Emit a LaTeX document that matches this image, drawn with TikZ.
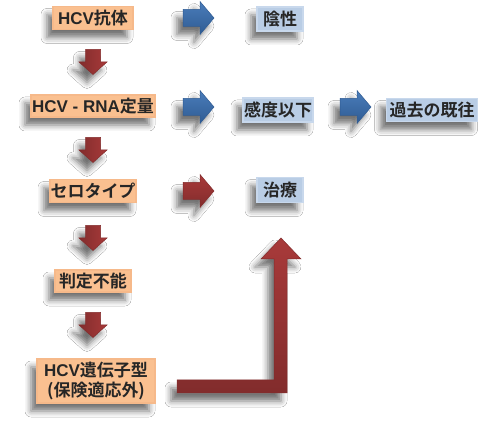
\documentclass[tikz,border=0pt]{standalone}
\usepackage{fontspec}
\setmainfont{Noto Sans CJK JP}[BoldFont={* Bold}]
\newfontfamily\jpb{Noto Sans CJK JP Bold}
\newfontfamily\latb{Liberation Sans Bold}
\usetikzlibrary{shadows,shadows.blur}
\definecolor{orfill}{HTML}{FAC090}
\definecolor{ordraw}{HTML}{F6B98A}
\definecolor{blfill}{HTML}{B9CDE5}
\definecolor{bldraw}{HTML}{C8D8EC}
\definecolor{arblue}{HTML}{4A7DBA}
\definecolor{arbluedk}{HTML}{2F5B93}
\definecolor{arred}{HTML}{A83A3A}
\definecolor{arreddk}{HTML}{822C2C}
\tikzset{
  softshadow/.style={blur shadow={shadow xshift=-6pt, shadow yshift=-8pt, shadow blur radius=6pt, shadow opacity=55}},
  obox/.style={draw=ordraw, line width=1.2pt, fill=orfill, inner sep=0pt, minimum height=23pt, font=\jpb\fontsize{17}{20}\selectfont, text=black!85, align=center, softshadow},
  bbox/.style={draw=bldraw, line width=1.2pt, fill=blfill, inner sep=0pt, minimum height=23pt, font=\jpb\fontsize{17}{20}\selectfont, text=black!85, align=center, softshadow},
  bluefill/.style={draw=arbluedk, line width=0.5pt, top color=arblue, bottom color=arbluedk, softshadow},
  redfill/.style={draw=arreddk, line width=0.5pt, top color=arred, bottom color=arreddk, softshadow},
  redvfill/.style={draw=arreddk, line width=0.5pt, left color=arreddk, right color=arred, softshadow},
  pics/rightarr/.style={code={
    \path[#1] (-15.5,-8.5) -- (1.5,-8.5) -- (1.5,-16.5) -- (15.5,0) -- (1.5,16.5) -- (1.5,8.5) -- (-15.5,8.5) -- cycle;}},
  pics/downarr/.style={code={
    \path[redvfill] (-7.5,-12.5) -- (7.5,-12.5) -- (7.5,0) -- (14,0) -- (0,12.5) -- (-14,0) -- (-7.5,0) -- cycle;}},
}
\begin{document}
\begin{tikzpicture}[x=1pt,y=-1pt]
\useasboundingbox (0,0) rectangle (480,430);
\fill[white] (0,0) rectangle (480,430);
% left column
\node[obox, minimum width=80pt] (a1) at (93,18) {{\latb HCV}抗体};
\node[obox, minimum width=124pt, minimum height=22pt] (a2) at (93,106) {{\latb HCV - RNA}定量};
\node[obox, minimum width=86pt] (a3) at (93,191) {セロタイプ};
\node[obox, minimum width=76pt, minimum height=22pt] (a4) at (93,281) {判定不能};
\node[obox, minimum width=118pt, minimum height=44pt, font=\jpb\fontsize{17}{20}\selectfont] (a5) at (96,381) {{\latb HCV}遺伝子型\\({保険適応外})};
% right boxes
\node[bbox, minimum width=46pt, minimum height=24pt] (b1) at (280,19) {陰性};
\node[bbox, minimum width=70pt, minimum height=24pt] (b2) at (278,110) {感度以下};
\node[bbox, minimum width=91pt, minimum height=23pt] (b3) at (432,110) {過去の既往};
\node[bbox, minimum width=46pt, minimum height=25pt] (b4) at (280,190) {治療};
% horizontal arrows
\coordinate (r1) at (198.5,18);
\coordinate (r2) at (198.5,107);
\coordinate (r3) at (355.5,107);
\coordinate (r4) at (198.5,191);
\pic at (r1) {rightarr=bluefill};
\pic at (r2) {rightarr=bluefill};
\pic at (r3) {rightarr=bluefill};
\pic at (r4) {rightarr=redfill};
% down arrows
\coordinate (d1) at (93,62);
\coordinate (d2) at (93,150);
\coordinate (d3) at (93,238);
\coordinate (d4) at (93,325);
\pic at (d1) {downarr};
\pic at (d2) {downarr};
\pic at (d3) {downarr};
\pic at (d4) {downarr};
% L-shaped arrow
\coordinate (lstart) at (177,380);
\path[redfill]
  (lstart) -- (274,380) -- (274,259) -- (261,259) -- (281,238) -- (301,259) -- (287,259) -- (287,393) -- (177,393) -- cycle;
\end{tikzpicture}
\end{document}
